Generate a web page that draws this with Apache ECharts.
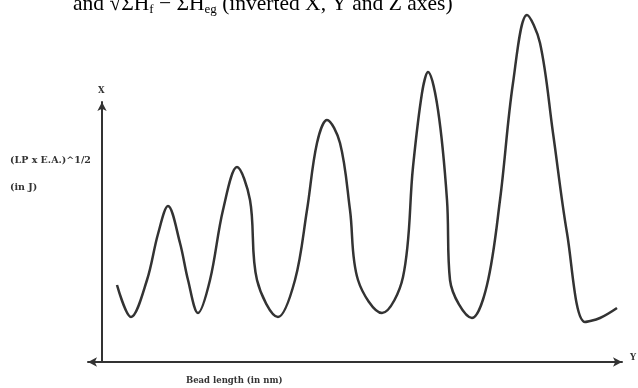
<!DOCTYPE html>
<html><head><meta charset="utf-8">
<script src="https://cdn.jsdelivr.net/npm/echarts@6/dist/echarts.min.js"></script>
<style>html,body{margin:0;padding:0;background:#fff}#c{width:638px;height:388px}</style>
</head><body><div id="c"></div>
<script>
// Bead length (arbitrary nm units, 0 = vertical axis)
var beadLength = [15,29,45,56,66,78,86,96,108,121,135,148,155,176,193,205,215,225,238,248,256,280,301,311,320,326,336,345,348,370,385,398,411,425,438,451,465,483,498,515];
// (LP x E.A.)^1/2 (arbitrary units, 0 = horizontal axis)
var energy =     [77,45,82,128,156,119,82,49,82,152,195,162,82,45,82,152,219,242,219,152,82,49,85,195,269,290,252,162,82,44,77,162,279,347,319,229,129,40,44,54];
var titleText = 'and \u221A\u03A3H{sub|f} \u2212 \u03A3H{sub|eg} (inverted X, Y and Z axes)';
var yLabel1 = '(LP x E.A.)^1/2';
var yLabel2 = '(in J)';
var xLabel = 'Bead length (in nm)';
var xAxisLetter = 'Y';
var yAxisLetter = 'X';

var pts = beadLength.map(function(x,i){return [x, energy[i]];});
var chart = echarts.init(document.getElementById('c'), null, {renderer:'canvas'});
var small = {fontFamily:'DejaVu Serif', fontWeight:'bold', fontSize:8.5, fill:'#333'};
var smallL = Object.assign({}, small, {fontSize:9.5});
chart.setOption({
  animation:false,
  title:{text:titleText, left:68, top:-13,
    textStyle:{fontFamily:'Liberation Serif', fontWeight:'normal', fontSize:21.5, color:'#000',
      rich:{sub:{fontFamily:'Liberation Serif', fontSize:13, verticalAlign:'bottom', padding:[11,0,0,0], color:'#000'}}}},
  grid:[
    {left:102, top:10, width:520, height:352, show:false},
    {left:88, top:102, right:16, bottom:26, show:false}
  ],
  xAxis:[
    {type:'value', gridIndex:0, min:0, max:520, show:false},
    {type:'value', gridIndex:1, min:0, max:1, axisLine:{show:true, symbol:['arrow','arrow'], symbolSize:[7,9], lineStyle:{color:'#333', width:2}},
      axisTick:{show:false}, axisLabel:{show:false}, splitLine:{show:false}}
  ],
  yAxis:[
    {type:'value', gridIndex:0, min:0, max:352, show:false},
    {type:'value', gridIndex:1, min:0, max:1, offset:-14, axisLine:{show:true, onZero:false, symbol:['none','arrow'], symbolSize:[7,9], lineStyle:{color:'#333', width:2}},
      axisTick:{show:false}, axisLabel:{show:false}, splitLine:{show:false}}
  ],
  series:[{
    type:'line', xAxisIndex:0, yAxisIndex:0, data:pts, smooth:0.35,
    showSymbol:false, lineStyle:{color:'#333', width:2.5}
  }],
  graphic:[
    {type:'text', left:98, top:86, style:Object.assign({text:yAxisLetter}, small)},
    {type:'text', left:630, top:353, style:Object.assign({text:xAxisLetter}, small)},
    {type:'text', left:10, top:156, style:Object.assign({text:yLabel1}, smallL)},
    {type:'text', left:10, top:183, style:Object.assign({text:yLabel2}, smallL)},
    {type:'text', left:186, top:376, style:Object.assign({text:xLabel}, small)}
  ]
});
</script></body></html>
